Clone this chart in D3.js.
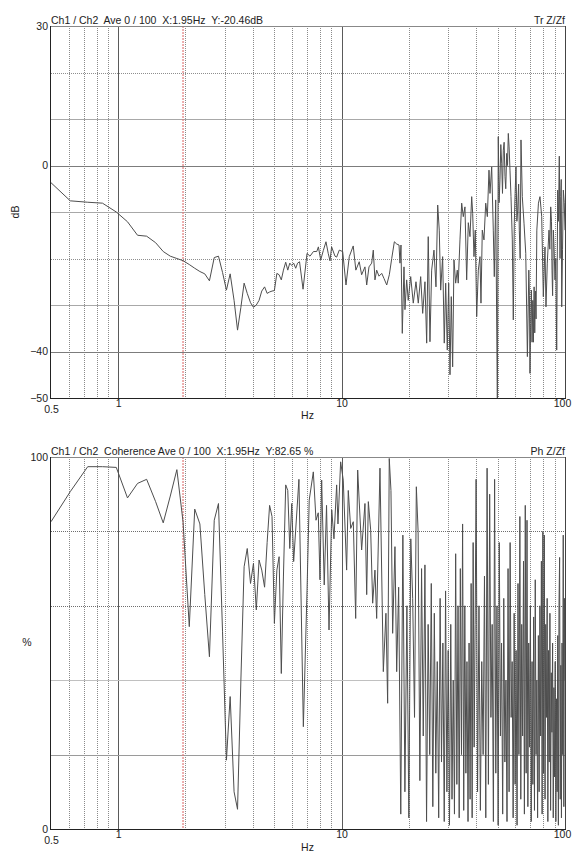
<!DOCTYPE html>
<html>
<head>
<meta charset="utf-8">
<script src="https://cdn.jsdelivr.net/npm/d3@7"></script>
<style>
  html, body { margin: 0; padding: 0; background: #fff; }
  svg { display: block; }
  text { white-space: pre; }
</style>
</head>
<body>
<svg id="chart" width="585" height="858"></svg>
<script>
// transfer function Z/Zf (dB)
const trFreq = [
  0.5, 0.61, 0.73, 0.85, 0.98, 1.10, 1.22, 1.34, 1.47, 1.59, 1.71, 1.83, 1.95, 2.08, 2.20, 2.32, 2.44, 2.56,
  2.69, 2.81, 2.93, 3.05, 3.17, 3.30, 3.42, 3.54, 3.66, 3.78, 3.91, 4.03, 4.15, 4.27, 4.39, 4.52, 4.64, 4.76,
  4.88, 5.00, 5.13, 5.25, 5.37, 5.49, 5.62, 5.74, 5.86, 5.98, 6.10, 6.23, 6.35, 6.48, 6.72, 7.00, 7.22, 7.48,
  7.74, 7.87, 8.06, 8.28, 8.51, 8.71, 8.87, 9.02, 9.34, 9.50, 9.76, 10.11, 10.46, 10.82, 11.27, 11.58, 11.99,
  12.29, 12.72, 12.95, 13.26, 13.63, 13.86, 14.10, 14.35, 14.70, 15.12, 15.48, 15.92, 16.35, 16.76, 17.22,
  17.66, 18.07, 18.25, 18.44, 18.69, 19.02, 19.21, 19.55, 19.87, 20.38, 20.93, 21.52, 22.04, 22.59, 23.06,
  23.61, 24.03, 24.42, 24.86, 25.30, 25.91, 26.45, 26.92, 27.36, 27.76, 28.33, 28.81, 29.23, 29.72, 30.15,
  30.56, 30.97, 31.41, 31.84, 32.40, 32.94, 33.27, 33.87, 34.47, 35.05, 35.66, 36.29, 36.91, 37.55, 38.22,
  38.61, 39.13, 39.66, 40.24, 40.92, 41.63, 42.06, 42.63, 43.38, 44.17, 44.91, 45.68, 46.15, 46.97, 47.75,
  48.25, 48.95, 49.80, 50.27, 50.70, 51.16, 51.60, 52.07, 52.50, 52.94, 53.40, 53.87, 54.30, 54.83, 55.30,
  55.74, 56.20, 56.72, 57.31, 58.09, 58.69, 59.30, 59.80, 60.34, 60.90, 61.40, 62.00, 62.44, 63.00, 63.53,
  64.40, 65.54, 66.73, 67.30, 67.86, 68.30, 68.87, 69.30, 69.70, 70.20, 70.74, 71.20, 71.77, 72.20, 72.74,
  73.20, 73.73, 74.20, 74.80, 76.05, 77.27, 78.66, 79.97, 81.36, 82.20, 83.31, 84.79, 85.50, 86.31, 87.00,
  87.48, 88.00, 88.68, 89.40, 90.19, 91.00, 91.80, 92.75, 93.50, 94.30, 95.00, 95.68, 96.20, 96.67, 97.50,
  98.29, 99.20, 100
]
const trDb = [
  -3.7, -7.6, -7.9, -8.1, -10.0, -12.1, -15.0, -15.2, -16.6, -18.5, -19.5, -20.0, -20.46, -21.3, -22.1, -22.8, -23.3, -24.8,
  -19.8, -19.5, -23.0, -26.8, -23.3, -29.0, -35.4, -30.5, -25.3, -27.5, -29.5, -30.5, -30.0, -29.0, -27.0, -26.1, -27.5, -27.2,
  -27.0, -26.9, -23.2, -23.5, -24.6, -22.5, -20.8, -22.5, -21.0, -21.5, -21.0, -22.1, -21.0, -20.7, -26.6, -18.9, -19.5, -18.5,
  -18.5, -17.5, -20.3, -18.3, -16.4, -18.9, -20.5, -17.5, -19.5, -19.7, -18.2, -18.5, -25.7, -19.6, -17.3, -22.5, -20.7,
  -23.5, -21.8, -25.7, -21.8, -21.0, -18.2, -24.6, -22.5, -23.8, -23.2, -24.3, -25.7, -23.5, -20.0, -16.4,
  -16.9, -17.1, -21.0, -17.1, -36.1, -21.8, -31.0, -24.6, -29.0, -23.9, -29.6, -25.0, -29.6, -23.9, -31.8,
  -25.0, -38.2, -15.3, -37.9, -22.5, -18.2, -26.1, -8.5, -13.9, -26.8, -19.6, -38.2, -25.3, -39.7, -25.3,
  -45.0, -28.2, -43.3, -20.3, -25.3, -22.5, -25.3, -16.0, -8.1, -11.0, -8.9, -24.6, -12.3, -15.3, -6.7,
  -10.3, -19.6, -13.9, -32.5, -22.5, -19.6, -29.6, -13.9, -16.0, -8.1, -11.0, -1.0, -6.0, -0.3, -13.9,
  -23.9, -7.4, -52, 6.2, -8.0, -3.1, 4.5, 0.5, -6.0, 3.3, 5.0, -2.4, -5.0, 2.6, 0.0,
  6.9, 4.0, -1.0, -6.7, -16.0, -33.2, -12.3, -6.0, -0.3, -12.0, -9.6, -4.0, -13.9, -20.0, 5.5,
  -6.7, -12.4, -18.9, -30.0, -41.1, -33.0, -22.5, -28.0, -44.7, -34.0, -26.8, -38.0, -29.0, -38.0, -26.1,
  -36.0, -27.0, -33.0, -13.9, -8.1, -6.7, -11.0, -28.2, -17.5, -30.4, -21.0, -13.9, -18.0, -8.9, -12.0,
  -22.5, -28.0, -13.9, -18.0, -24.6, -20.0, -39.7, -5.3, -12.0, 2.0, -20.0, -6.7, -3.0, -30.4, -18.0,
  -5.3, -8.0, -13.9
]

// coherence (%)
const cohFreq = [
  0.5, 0.61, 0.73, 0.85, 0.98, 1.10, 1.22, 1.34, 1.47, 1.59, 1.71, 1.83, 1.95, 2.08, 2.20, 2.32, 2.44, 2.56,
  2.69, 2.81, 2.93, 3.05, 3.17, 3.30, 3.42, 3.54, 3.66, 3.78, 3.91, 4.03, 4.15, 4.27, 4.39, 4.52, 4.64, 4.76,
  4.88, 5.00, 5.13, 5.25, 5.37, 5.49, 5.62, 5.74, 5.86, 5.98, 6.10, 6.44, 6.74, 7.00, 7.16, 7.47, 7.68, 7.86,
  8.00, 8.14, 8.36, 8.56, 8.78, 9.03, 9.24, 9.50, 9.63, 9.90, 10.17, 10.53, 10.71, 10.98, 11.28, 11.56, 11.80,
  12.29, 12.72, 12.95, 13.17, 13.49, 13.77, 14.10, 14.35, 14.85, 15.37, 15.79, 16.07, 16.34, 16.63, 16.92,
  17.33, 17.64,
  18.0, 18.4, 18.8, 19.2, 19.6, 20.0, 20.4, 20.8, 21.2, 21.6, 22.0, 22.4, 22.8, 23.2, 23.6, 24.0, 24.4, 24.8,
  25.2, 25.6, 26.0, 26.4, 26.8, 27.2, 27.6, 28.0, 28.4, 28.8, 29.2, 29.6, 30.0, 30.4, 30.8, 31.2, 31.6, 32.0,
  32.4, 32.8, 33.2, 33.6, 34.0, 34.4, 34.8, 35.2, 35.6, 36.0, 36.4, 36.8, 37.2, 37.6, 38.0, 38.4, 38.8, 39.2,
  39.6, 40.0,
  40.6, 41.2, 41.8, 42.4, 43.0, 43.6, 44.2, 44.8, 45.4, 46.0, 46.6, 47.2, 47.8, 48.4, 49.0, 49.6, 50.2, 50.8,
  51.4, 52.0, 52.6, 53.2, 53.8, 54.4, 55.0, 55.6, 56.2, 56.8, 57.4, 58.0, 58.6, 59.2, 59.8, 60.4, 61.0, 61.6,
  62.2, 62.8, 63.4, 64.0, 64.6, 65.2, 65.8, 66.4, 67.0, 67.6, 68.2, 68.8, 69.4, 70.0, 70.6, 71.2, 71.8, 72.4,
  73.0, 73.6, 74.2, 74.8, 75.4, 76.0, 76.6, 77.2, 77.8, 78.4, 79.0, 79.6, 80.2, 80.8, 81.4, 82.0, 82.6, 83.2,
  83.8, 84.4, 85.0, 85.6, 86.2, 86.8, 87.4, 88.0, 88.6, 89.2, 89.8, 90.4, 91.0, 91.6, 92.2, 92.8, 93.4, 94.0,
  94.6, 95.2, 95.8, 96.4, 97.0, 97.6, 98.2, 98.8, 99.4, 100.0
]
const cohPct = [
  82.6, 90.7, 97.4, 97.4, 97.2, 89, 92.9, 94, 88, 82.3, 89.5, 96.6, 82.65, 54.4, 86, 82, 63, 46.3,
  83, 87.5, 53, 18.5, 35.6, 10, 5.3, 40, 70.5, 75.4, 66, 71.4, 58.9, 72.3, 69.6, 65, 77, 87,
  84, 55.3, 69.6, 73.2, 41.8, 68, 92.5, 91, 75.4, 87.5, 71.9, 94, 27.5, 64, 88.4, 96, 83, 85,
  67, 93.8, 65.6, 87, 53.5, 85.8, 78, 92.5, 82, 98.7, 93.8, 69.6, 91, 80.8, 82.6, 56.6, 96.5,
  75, 87.5, 63, 88, 80.4, 60.7, 69.6, 56.6, 97, 42.3, 58, 33.8, 99.6, 91, 52.6,
  75.9, 42.3,
  65, 4, 79, 10, 60, 3, 78, 62, 30, 92, 80, 13, 70, 25, 71, 2, 55, 20,
  66, 6, 58, 15, 45, 3, 62, 18, 50, 2, 64, 10, 48, 1, 55, 8, 40, 4,
  74, 12, 60, 3, 70, 20, 82, 5, 60, 15, 45, 2, 50, 8, 66, 3, 77, 22,
  55, 94,
  10, 60, 5, 45, 20, 68, 3, 97, 12, 90, 30, 55, 2, 94, 15, 60, 1, 77,
  25, 50, 4, 62, 18, 40, 2, 70, 10, 77, 30, 45, 3, 58, 12, 48, 1, 66,
  20, 84, 8, 55, 25, 72, 4, 87, 15, 83, 6, 50, 22, 60, 2, 45, 12, 57,
  5, 67, 20, 40, 3, 52, 10, 60, 25, 72, 4, 80, 15, 79, 8, 55, 30, 62,
  2, 48, 18, 58, 5, 42, 26, 50, 3, 38, 14, 45, 2, 35, 10, 52, 1, 60,
  73, 8, 44, 3, 50, 20, 79, 6, 62, 40
]

const xTicks = [0.5, 1, 10, 100]
const xDecades = [1, 10]
const xMinor = [0.6, 0.7, 0.8, 0.9, 2, 3, 4, 5, 6, 7, 8, 9, 20, 30, 40, 50, 60, 70, 80, 90]
const cursorHz = 1.95

const trTicks = [30, 0, -40, -50]
const trGrid = [20, 10, 0, -10, -20, -30, -40]
const cohTicks = [100, 0]
const cohGrid = [80, 60, 40, 20]

const trTitle = 'Ch1 / Ch2  Ave 0 / 100  X:1.95Hz  Y:-20.46dB'
const cohTitle = 'Ch1 / Ch2  Coherence Ave 0 / 100  X:1.95Hz  Y:82.65 %'

const font = '"Liberation Sans", Arial, sans-serif'
const fontSize = 10.5
const textColor = '#222'
const left = 51
const right = 565

const svg = d3.select('#chart')

const x = d3.scaleLog().domain([0.5, 100]).range([left, right])

// horizontal grid looks, by value
const trGridStyle = (v) =>
  v === 0 || v === -40
    ? { stroke: '#7c7c7c', width: 1.6, dash: null }
    : v === 10 || v === -10 || v === -30
      ? { stroke: '#a8a8a8', width: 1, dash: null }
      : { stroke: '#8e8e8e', width: 1, dash: '1,1' }
const cohGridStyle = (v) =>
  v === 80 || v === 60
    ? { stroke: '#6e6e6e', width: 1, dash: '1,1' }
    : v === 40
      ? { stroke: '#c0c0c0', width: 1.5, dash: null }
      : { stroke: '#9a9a9a', width: 1, dash: null }

const drawPanel = ({ id, top, bottom, domain, ticks, grid, gridStyle, freq, values, title, tag, unit, unitRotate, unitPos, hzY }) => {
  const y = d3.scaleLinear().domain(domain).range([bottom, top])
  const g = svg.append('g')

  g.append('defs')
    .append('clipPath')
    .attr('id', `clip-${id}`)
    .append('rect')
    .attr('x', left)
    .attr('y', top)
    .attr('width', right - left)
    .attr('height', bottom - top)

  // vertical grid
  g.append('g')
    .selectAll('line')
    .data(xMinor)
    .join('line')
    .attr('x1', (d) => Math.round(x(d)) + 0.5)
    .attr('x2', (d) => Math.round(x(d)) + 0.5)
    .attr('y1', top)
    .attr('y2', bottom)
    .attr('stroke', '#8a8a8a')
    .attr('stroke-dasharray', '1,1')
    .attr('shape-rendering', 'crispEdges')

  g.append('g')
    .selectAll('line')
    .data(xDecades)
    .join('line')
    .attr('x1', (d) => Math.round(x(d)) + 0.5)
    .attr('x2', (d) => Math.round(x(d)) + 0.5)
    .attr('y1', top)
    .attr('y2', bottom)
    .attr('stroke', '#5a5a5a')
    .attr('shape-rendering', 'crispEdges')

  // horizontal grid
  g.append('g')
    .selectAll('line')
    .data(grid)
    .join('line')
    .attr('x1', left)
    .attr('x2', right)
    .attr('y1', (d) => Math.round(y(d)) + 0.5)
    .attr('y2', (d) => Math.round(y(d)) + 0.5)
    .attr('stroke', (d) => gridStyle(d).stroke)
    .attr('stroke-width', (d) => gridStyle(d).width)
    .attr('stroke-dasharray', (d) => gridStyle(d).dash)
    .attr('shape-rendering', 'crispEdges')

  // cursor
  g.append('line')
    .attr('x1', x(cursorHz))
    .attr('x2', x(cursorHz))
    .attr('y1', top)
    .attr('y2', bottom)
    .attr('stroke', '#e27a7a')
    .attr('stroke-width', 1.4)
    .attr('stroke-dasharray', '2,1')
    .attr('opacity', 0.85)

  // data
  const line = d3
    .line()
    .x((d) => x(d[0]))
    .y((d) => y(d[1]))
  g.append('path')
    .datum(d3.zip(freq, values))
    .attr('clip-path', `url(#clip-${id})`)
    .attr('fill', 'none')
    .attr('stroke', '#4e4e4e')
    .attr('stroke-width', 1)
    .attr('d', line)

  // frame
  g.append('line').attr('x1', left).attr('x2', right).attr('y1', top + 0.5).attr('y2', top + 0.5)
    .attr('stroke', '#888').attr('shape-rendering', 'crispEdges')
  g.append('line').attr('x1', right + 0.5).attr('x2', right + 0.5).attr('y1', top).attr('y2', bottom)
    .attr('stroke', '#444').attr('shape-rendering', 'crispEdges')
  g.append('line').attr('x1', left).attr('x2', right + 1).attr('y1', bottom + 0.5).attr('y2', bottom + 0.5)
    .attr('stroke', '#222').attr('stroke-width', 1.3).attr('shape-rendering', 'crispEdges')
  g.append('line').attr('x1', left - 0.5).attr('x2', left - 0.5).attr('y1', top).attr('y2', bottom + 1)
    .attr('stroke', '#222').attr('stroke-width', 1.3).attr('shape-rendering', 'crispEdges')

  // axes
  const gy = g.append('g')
    .attr('transform', `translate(${left},0)`)
    .call(d3.axisLeft(y).tickValues(ticks).tickSize(0).tickPadding(3))
  gy.select('.domain').remove()
  gy.attr('font-family', font).attr('font-size', fontSize)
  gy.selectAll('text').attr('fill', textColor)

  const gx = g.append('g')
    .attr('transform', `translate(0,${bottom})`)
    .call(d3.axisBottom(x).tickValues(xTicks).tickFormat((d) => String(d)).tickSize(0).tickPadding(2))
  gx.select('.domain').remove()
  gx.attr('font-family', font).attr('font-size', fontSize)
  gx.selectAll('text')
    .attr('fill', textColor)
    .attr('y', (d) => (d === 0.5 ? 8 : 2))
    .attr('dx', (d) => (d === 100 ? -3 : 0))

  // texts
  g.append('text')
    .attr('x', left)
    .attr('y', top - 2.5)
    .attr('font-family', font)
    .attr('font-size', fontSize)
    .attr('fill', textColor)
    .text(title)
  g.append('text')
    .attr('x', right)
    .attr('y', top - 2.5)
    .attr('text-anchor', 'end')
    .attr('font-family', font)
    .attr('font-size', fontSize)
    .attr('fill', textColor)
    .text(tag)
  g.append('text')
    .attr('transform', `translate(${unitPos[0]},${unitPos[1]}) rotate(${unitRotate})`)
    .attr('text-anchor', 'middle')
    .attr('dominant-baseline', 'central')
    .attr('font-family', font)
    .attr('font-size', fontSize)
    .attr('fill', textColor)
    .text(unit)
  g.append('text')
    .attr('x', 307.5)
    .attr('y', hzY)
    .attr('text-anchor', 'middle')
    .attr('font-family', font)
    .attr('font-size', fontSize)
    .attr('fill', textColor)
    .text('Hz')
}

drawPanel({
  id: 'tr',
  top: 26,
  bottom: 398,
  domain: [-50, 30],
  ticks: trTicks,
  grid: trGrid,
  gridStyle: trGridStyle,
  freq: trFreq,
  values: trDb,
  title: trTitle,
  tag: 'Tr Z/Zf',
  unit: 'dB',
  unitRotate: -90,
  unitPos: [15, 212],
  hzY: 419,
})

drawPanel({
  id: 'coh',
  top: 457,
  bottom: 829,
  domain: [0, 100],
  ticks: cohTicks,
  grid: cohGrid,
  gridStyle: cohGridStyle,
  freq: cohFreq,
  values: cohPct,
  title: cohTitle,
  tag: 'Ph Z/Zf',
  unit: '%',
  unitRotate: 0,
  unitPos: [27, 642],
  hzY: 851,
})
</script>
</body>
</html>
